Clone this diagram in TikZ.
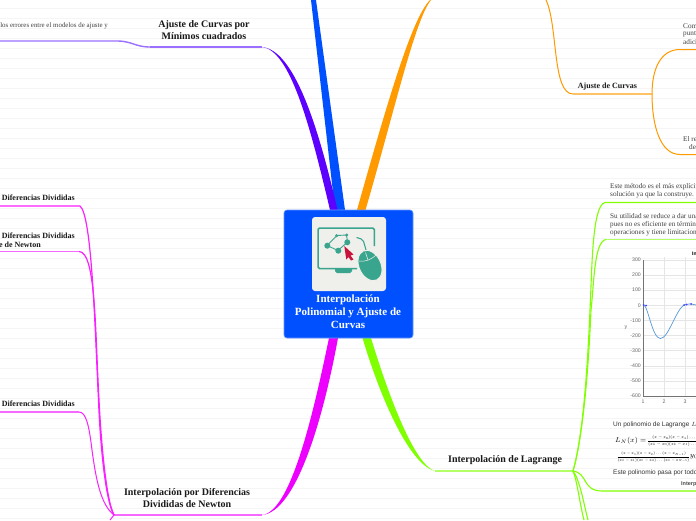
\documentclass[tikz,border=0pt]{standalone}
\usepackage{graphicx}
\usepackage{fontspec}
\setmainfont{Liberation Serif}
\setsansfont{Liberation Sans}
\definecolor{cPur}{HTML}{5C00FF}\definecolor{cPurL}{HTML}{9B6FFF}
\definecolor{cBlu}{HTML}{0050FF}
\definecolor{cOra}{HTML}{FF9A00}\definecolor{cOraL}{HTML}{FFC266}
\definecolor{cMag}{HTML}{EE00FF}\definecolor{cMagB}{HTML}{FA20FF}\definecolor{cMagL}{HTML}{F569FF}
\definecolor{cGre}{HTML}{80FF00}\definecolor{cGreL}{HTML}{B3FF66}
\definecolor{cTeal}{HTML}{3AA58E}\definecolor{cRed}{HTML}{C8143C}
\definecolor{cIcon}{HTML}{EFEFEB}
\tikzset{
 head/.style={font=\bfseries\fontsize{10}{12}\selectfont,align=center,text=black!90,inner sep=0pt},
 sub/.style={font=\bfseries\fontsize{8}{9.5}\selectfont,text=black!90,inner sep=0pt},
 body/.style={font=\fontsize{7.2}{8}\selectfont,text=black!75,inner sep=0pt,anchor=west},
 tick/.style={font=\sffamily\fontsize{5.2}{5.5}\selectfont,text=black!60,inner sep=0pt},
 sans/.style={font=\sffamily\fontsize{6.5}{7}\selectfont,text=black!80,inner sep=0pt,anchor=west},
 lnO/.style={draw=cOra,line width=1pt},
 lnG/.style={draw=cGre,line width=1.1pt},
 lnM/.style={draw=cMagB,line width=1pt},
 grid/.style={draw=black!10,line width=.4pt}
}
\begin{document}
\begin{tikzpicture}[x=1pt,y=-1pt]
\useasboundingbox (0,0) rectangle (696,520);
\clip (0,0) rectangle (696,520);
\fill[white] (0,0) rectangle (696,520);
% ruled background
\foreach \yy in {8.5,18.5,...,518.5} \draw[black!4,line width=.6pt] (0,\yy) -- (696,\yy);

% anchors
\coordinate (pL) at (0,41); \coordinate (pA) at (117,41); \coordinate (pB) at (150,47); \coordinate (pC) at (262,47);
\coordinate (oT) at (546,0); \coordinate (oA) at (573,94); \coordinate (oB) at (652,94);
\coordinate (oU) at (680,49.5); \coordinate (oUe) at (696,49.5); \coordinate (oD) at (680,154.5); \coordinate (oDe) at (696,154.5);
\coordinate (gA) at (435,471); \coordinate (gJ) at (573,471);
\coordinate (g1) at (605,202.5); \coordinate (g1e) at (696,202.5);
\coordinate (g2) at (606,239.5); \coordinate (g2e) at (696,239.5);
\coordinate (g3) at (602,491); \coordinate (g3e) at (696,491);
\coordinate (g4) at (584,520); \coordinate (g5) at (588,520);
\coordinate (mA) at (262,515); \coordinate (mJ) at (114,515);
\coordinate (m1) at (80,206); \coordinate (m1e) at (0,206);
\coordinate (m2) at (79,251.5); \coordinate (m2e) at (0,251.5);
\coordinate (m3) at (79,412); \coordinate (m3e) at (0,412);
\coordinate (mD) at (110,520);

% tapered main branches
\fill[cBlu] (311,0) -- (316,0) -- (345,210) -- (335,210) -- cycle;
\fill[cPur] (pC) .. controls (290,50) and (310,125) .. (330,210) -- (337.5,210) .. controls (318,125) and (294,50) .. (pC);
\fill[cOra] (430,0) .. controls (412,18) and (388,100) .. (357,210) -- (365.5,210) .. controls (396,105) and (415,20) .. (431,0) -- cycle;
\fill[cMag] (mA) .. controls (290,512) and (312,420) .. (329,338) -- (338,338) .. controls (322,425) and (295,512) .. (mA);
\fill[cGre] (gA) .. controls (410,465) and (381,400) .. (362.5,338) -- (371,338) .. controls (390,400) and (415,465) .. (gA);

% purple
\draw[cPurL,line width=1.4pt] (pC) -- (pB);
\draw[cPurL,line width=1.4pt] (pB) .. controls (135,47) and (132,41) .. (pA) -- (pL);

% orange
\draw[lnO] (oT) .. controls (558,25) and (552,94) .. (oA);
\draw[cOraL,line width=1.3pt] (oA) -- (oB);
\draw[lnO] (oB) .. controls (652,70) and (660,49.5) .. (oU) -- (oUe);
\draw[lnO] (oB) .. controls (652,125) and (660,154.5) .. (oD) -- (oDe);

% green
\draw[cGreL,line width=1.5pt] (gA) -- (gJ);
\draw[lnG] (gJ) .. controls (582,440) and (587,380) .. (590,310) .. controls (592,270) and (592,205) .. (g1) -- (g1e);
\draw[lnG] (gJ) .. controls (582,440) and (588,380) .. (591,310) .. controls (594,285) and (594,241) .. (g2);
\draw[cGreL,line width=1.3pt] (g2) -- (g2e);
\draw[lnG] (gJ) .. controls (588,473) and (582,491) .. (g3) -- (g3e);
\draw[lnG] (gJ) .. controls (577,480) and (580,505) .. (g4);
\draw[lnG] (gJ) .. controls (580,480) and (584,505) .. (g5);

% magenta
\draw[cMagL,line width=1.4pt] (mA) -- (mJ);
\draw[lnM,line width=1.2pt] (mJ) .. controls (105,500) and (100,440) .. (98.5,400) .. controls (95,330) and (92,215) .. (m1) -- (m1e);
\draw[lnM,line width=1.2pt] (mJ) .. controls (106,500) and (101,440) .. (99,400) .. controls (95,330) and (96,251.5) .. (m2);
\draw[cMagL,line width=1.3pt] (m2) -- (m2e);
\draw[lnM] (mJ) .. controls (101,505) and (96,480) .. (92,450) .. controls (89,425) and (86,412) .. (m3);
\draw[cMagL,line width=1.3pt] (m3) -- (m3e);
\draw[lnM] (mJ) -- (mD);

% central node
\node[draw=cBlu!60!white,fill=cBlu,line width=.6pt,rounded corners=3pt,minimum width=129pt,minimum height=128pt,inner sep=0pt] (root) at (348.5,274) {};
\node[fill=cIcon,rounded corners=3pt,minimum width=74pt,minimum height=74pt,inner sep=0pt] (iconbg) at (349,254) {};
% icon
\draw[cTeal,line width=1.5pt,rounded corners=1.5pt] (374.3,246) -- (374.3,228) -- (318,228) -- (318,268.5) -- (357,268.5);
\fill[cTeal] (335,269) -- (352,269) -- (352,271) -- (350,273) -- (337,273) -- (335,271) -- cycle;
\draw[cTeal,line width=.9pt] (327,245.5) -- (337,235.5) -- (346.5,235) -- (347.5,242) -- (338,250.5) -- cycle;
\fill[cTeal] (327.3,245.7) circle (3pt) (338.3,250.7) circle (3pt) (347.3,242.3) circle (3pt) (336.7,235.7) circle (1.7pt) (346.7,235) circle (1.7pt);
\fill[cRed] (344.3,246) -- (353.5,254.5) -- (350.5,255.5) -- (353.5,259.5) -- (351,260.5) -- (348.5,257) -- (346.3,259.5) -- cycle;
\draw[cTeal,line width=1.1pt,rounded corners=2pt] (356.5,237.5) -- (363,239.5) -- (366,250);
\draw[cIcon,fill=cTeal,line width=1pt,rotate around={25:(370,265.5)}] (370,265.5) ellipse (11pt and 16pt);
\draw[cIcon,line width=.5pt] (359,261) .. controls (365,262) and (371,260) .. (376.5,254.5);
\draw[cIcon,line width=.5pt] (365.5,252.5) -- (368,260);
\node[font=\bfseries\fontsize{11}{13}\selectfont,text=white,align=center,inner sep=0pt] (rootlabel) at (348,312) {Interpolación\\Polinomial y Ajuste de\\Curvas};

% labels
\node[head] (n1) at (204,30) {Ajuste de Curvas por\\Mínimos cuadrados};
\node[body,font=\fontsize{6.9}{8}\selectfont,anchor=east] (n1a) at (108,26) {los errores entre el modelos de ajuste y};
\node[sub] (n2) at (607.5,86.5) {Ajuste de Curvas};
\node[body] at (683,26) {Com};
\node[body] at (683,34) {punt};
\node[body] at (683,42) {adici};
\node[body] at (683,139) {El re};
\node[body] at (689,147) {de};
\node[head] (n3) at (187,498) {Interpolación por Diferencias\\Divididas de Newton};
\node[sub,anchor=east] (n3a) at (75,198) {Diferencias Divididas};
\node[sub,anchor=east] (n3b) at (75,235.5) {Diferencias Divididas};
\node[sub,anchor=east] (n3c) at (41,244.5) {e de Newton};
\node[sub,anchor=east] (n3d) at (75,404) {Diferencias Divididas};
\node[head,anchor=west] (n4) at (448,460) {Interpolación de Lagrange};
\node[body] at (610,187) {Este método es el más explícito};
\node[body] at (610,195) {solución ya que la construye.};
\node[body] at (610,216.5) {Su utilidad se reduce a dar una};
\node[body] at (610,224.5) {pues no es eficiente en términos};
\node[body] at (610,232.5) {operaciones y tiene limitaciones};

% plot
\foreach \yy in {260,275.1,...,396.5} \draw[grid] (643,\yy) -- (696,\yy);
\foreach \xx in {664,685} \draw[grid] (\xx,257) -- (\xx,396);
\draw[black!55,line width=.4pt] (643.5,260) -- (643.5,396) -- (696,396);
\foreach \yy/\tt in {260/300,275.1/200,290.2/100,305.3/0,320.4/-100,335.5/-200,350.6/-300,365.7/-400,380.8/-500,396/-600}
  \node[tick,anchor=east] at (641,\yy) {\tt};
\foreach \xx/\tt in {643/1,664/2,685/3} \node[tick] at (\xx,402) {\tt};
\node[tick] at (626,328) {y};
\node[font=\sffamily\bfseries\fontsize{5}{6}\selectfont,inner sep=0pt,anchor=west] at (692,254) {In};
\draw[cyan!60!blue!70,line width=.7pt] (643.5,305) .. controls (648,305) and (652,338.5) .. (660.5,338.5) .. controls (669,338.5) and (677,305) .. (686,304.5) .. controls (690,303.5) and (693,304) .. (696,305);
\fill[blue!75] (643.5,305) circle (1pt) (646,305.5) circle (1pt) (684,305) circle (1pt) (686.5,304.5) circle (1pt) (691,304) circle (1pt);

% Lagrange text
\node[sans] at (613,425) {Un polinomio de Lagrange $L_N$};
\node[inner sep=0pt,anchor=west,font=\fontsize{7.5}{8}\selectfont] at (615,441) {$L_N(x)=$\,\scalebox{.62}{$\displaystyle\frac{(x-x_0)(x-x_1)\ldots(x-x_N)}{(x_k-x_0)(x_k-x_1)\ldots(x_k-x_N)}$}};
\node[inner sep=0pt,anchor=west,font=\fontsize{7.5}{8}\selectfont] at (617,457) {\scalebox{.58}{$\displaystyle\frac{(x-x_1)(x-x_2)\ldots(x-x_{N-1})}{(x_0-x_1)(x_0-x_2)\ldots(x_0-x_{N-1})}$}$y_0+\ldots$};
\node[sans] at (613,473) {Este polinomio pasa por todo};
\node[sans,font=\sffamily\bfseries\fontsize{5.5}{6}\selectfont,text=black!70] at (681,484) {Interp};
\end{tikzpicture}
\end{document}
